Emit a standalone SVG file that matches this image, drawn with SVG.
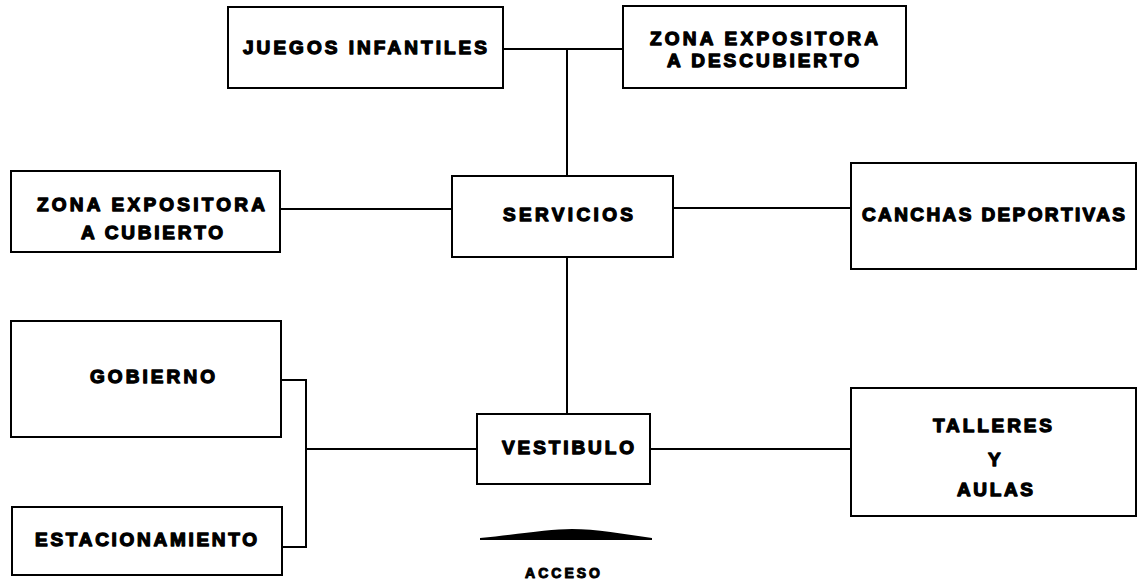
<svg xmlns="http://www.w3.org/2000/svg" width="1142" height="585" viewBox="0 0 1142 585">
<style>
.box{fill:#fff;stroke:#000;stroke-width:2}
.lbl{font-family:"Liberation Sans",Arial,sans-serif;font-weight:bold;font-size:19px;fill:#000;stroke:#000;stroke-width:1.3;stroke-linejoin:round}
.sm{font-size:14px;stroke-width:1}
.con{fill:none;stroke:#000;stroke-width:2}
</style>
<rect width="1142" height="585" fill="#fff"/>
<g id="connectors">
<path class="con" d="M490,49 H623"/>
<path class="con" d="M567,49 V176"/>
<path class="con" d="M280,209 H452"/>
<path class="con" d="M673,208 H851"/>
<path class="con" d="M567,257 V414"/>
<path class="con" d="M306,449 H477"/>
<path class="con" d="M650,449 H851"/>
<path class="con" d="M281,380 H306 V547 H282"/>
</g>
<g id="juegos">
<rect class="box" x="228" y="7" width="275" height="81"/>
<text class="lbl" x="243" y="54" textLength="244" lengthAdjust="spacing">JUEGOS INFANTILES</text>
</g>
<g id="zona-descubierto">
<rect class="box" x="623" y="6" width="283" height="82"/>
<text class="lbl" x="650" y="45" textLength="228" lengthAdjust="spacing">ZONA EXPOSITORA</text>
<text class="lbl" x="667" y="67" textLength="192" lengthAdjust="spacing">A DESCUBIERTO</text>
</g>
<g id="zona-cubierto">
<rect class="box" x="11" y="171" width="269" height="81"/>
<text class="lbl" x="37" y="211" textLength="228" lengthAdjust="spacing">ZONA EXPOSITORA</text>
<text class="lbl" x="81" y="239" textLength="142" lengthAdjust="spacing">A CUBIERTO</text>
</g>
<g id="servicios">
<rect class="box" x="452" y="176" width="221" height="81"/>
<text class="lbl" x="503" y="221" textLength="130" lengthAdjust="spacing">SERVICIOS</text>
</g>
<g id="canchas">
<rect class="box" x="851" y="163" width="285" height="106"/>
<text class="lbl" x="862" y="221" textLength="263" lengthAdjust="spacing">CANCHAS DEPORTIVAS</text>
</g>
<g id="gobierno">
<rect class="box" x="11" y="321" width="270" height="116"/>
<text class="lbl" x="90" y="383" textLength="125" lengthAdjust="spacing">GOBIERNO</text>
</g>
<g id="estacionamiento">
<rect class="box" x="12" y="507" width="270" height="68"/>
<text class="lbl" x="35" y="546" textLength="222" lengthAdjust="spacing">ESTACIONAMIENTO</text>
</g>
<g id="vestibulo">
<rect class="box" x="477" y="414" width="173" height="70"/>
<text class="lbl" x="502" y="454" textLength="132" lengthAdjust="spacing">VESTIBULO</text>
</g>
<g id="talleres">
<rect class="box" x="851" y="388" width="285" height="128"/>
<text class="lbl" x="933" y="432" textLength="119" lengthAdjust="spacing">TALLERES</text>
<text class="lbl" x="988" y="466">Y</text>
<text class="lbl" x="957" y="496" textLength="76" lengthAdjust="spacing">AULAS</text>
</g>
<g id="acceso">
<path d="M480,538 C520,534 550,529 572,529 C595,529 625,534 652,538 L652,540 L480,540 Z" fill="#000"/>
<text class="lbl sm" x="525" y="578" textLength="75" lengthAdjust="spacing">ACCESO</text>
</g>
</svg>
